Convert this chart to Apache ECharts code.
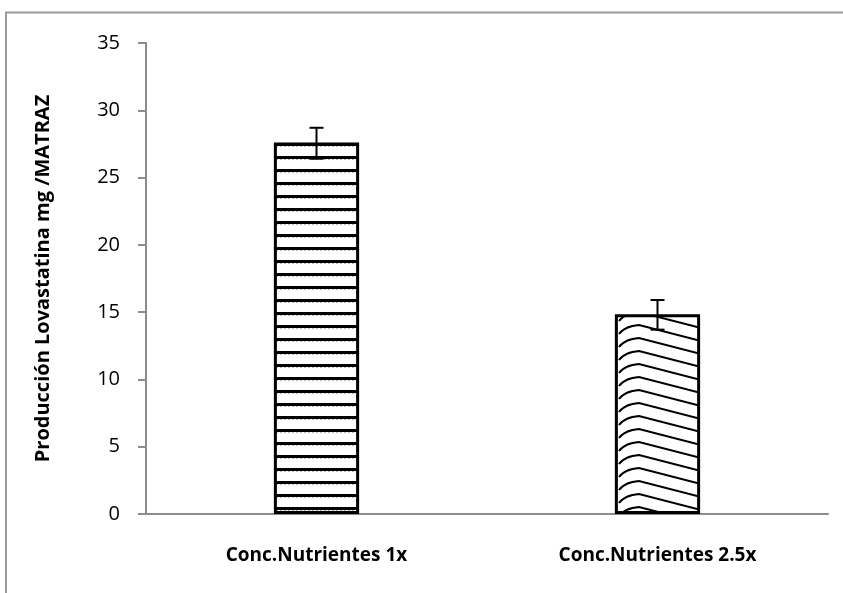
<!DOCTYPE html>
<html>
<head>
<meta charset="utf-8">
<script src="https://cdn.jsdelivr.net/npm/echarts@6/dist/echarts.min.js"></script>
<style>
  html, body { margin: 0; padding: 0; background: #fff; }
  #chart { width: 843px; height: 593px; }
</style>
</head>
<body>
<div id="chart"></div>
<script>
const categories = ["Conc.Nutrientes 1x", "Conc.Nutrientes 2.5x"];
const produccion = [27.6, 14.85];
const errorLow = [26.4, 13.7];
const errorHigh = [28.7, 15.9];
const yTicks = [0, 5, 10, 15, 20, 25, 30, 35];

// horizontal stripes for first bar
function stripePattern() {
  const c = document.createElement("canvas");
  c.width = 16;
  c.height = 13;
  const ctx = c.getContext("2d");
  ctx.fillStyle = "#fff";
  ctx.fillRect(0, 0, 16, 13);
  ctx.fillStyle = "#000";
  ctx.fillRect(0, 0, 16, 3);
  ctx.fillStyle = "#bbb";
  for (let x = 0; x < 16; x += 4) ctx.fillRect(x, 3, 2, 1);
  return c;
}

// chevron-like curved lines for second bar, drawn in page coords
function chevronPattern(x0, x1) {
  const h = 13;
  const c = document.createElement("canvas");
  c.width = 843;
  c.height = h;
  const ctx = c.getContext("2d");
  ctx.fillStyle = "#fff";
  ctx.fillRect(0, 0, 843, h);
  ctx.strokeStyle = "#000";
  ctx.lineWidth = 2;
  const peak = x0 + 26;
  for (const off of [-h, 0, h]) {
    ctx.beginPath();
    ctx.moveTo(x0 + 6, off + 9);
    ctx.quadraticCurveTo(x0 + 12, off + 1, peak, off);
    ctx.lineTo(x1, off + 16);
    ctx.stroke();
  }
  return c;
}

const chart = echarts.init(document.getElementById("chart"));
const font = "'Open Sans', 'Liberation Sans', sans-serif";

chart.setOption({
  animation: false,
  graphic: [{
    type: "rect",
    shape: { x: 6, y: 12.5, width: 900, height: 700 },
    style: { fill: "none", stroke: "#9a9a9a", lineWidth: 2 },
    z: 0
  }],
  grid: { left: 146, right: 15, top: 43, bottom: 79 },
  xAxis: {
    type: "category",
    data: categories,
    axisLine: { lineStyle: { color: "#8c8c8c", width: 2 } },
    axisTick: { show: false },
    axisLabel: { color: "#000", fontFamily: font, fontWeight: "bold", fontSize: 19, margin: 32 }
  },
  yAxis: {
    type: "value",
    min: 0,
    max: 35,
    interval: 5,
    name: "Producción Lovastatina mg /MATRAZ",
    nameLocation: "middle",
    nameGap: 93,
    nameTextStyle: { color: "#000", fontFamily: font, fontWeight: "bold", fontSize: 20 },
    axisLine: { show: true, lineStyle: { color: "#8c8c8c", width: 2 } },
    axisTick: { show: true, length: 8, lineStyle: { color: "#8c8c8c", width: 2 } },
    splitLine: { show: false },
    axisLabel: {
      color: "#000", fontFamily: font, fontSize: 20, margin: 26,
      formatter: (v) => (yTicks.includes(v) ? String(v) : "")
    }
  },
  series: [
    {
      type: "bar",
      barWidth: "25%",
      data: produccion.map((v, i) => ({
        value: v,
        itemStyle: {
          color: i === 0
            ? { image: stripePattern(), repeat: "repeat" }
            : { image: chevronPattern(613, 701), repeat: "repeat" },
          borderColor: "#000",
          borderWidth: 3
        }
      }))
    },
    {
      type: "custom",
      data: categories.map((c, i) => [i, errorLow[i], errorHigh[i]]),
      renderItem: (params, api) => {
        const lo = api.coord([api.value(0), api.value(1)]);
        const hi = api.coord([api.value(0), api.value(2)]);
        const w = 7;
        const style = { stroke: "#000", lineWidth: 2 };
        return {
          type: "group",
          children: [
            { type: "line", shape: { x1: hi[0], y1: hi[1], x2: lo[0], y2: lo[1] }, style },
            { type: "line", shape: { x1: hi[0] - w, y1: hi[1], x2: hi[0] + w, y2: hi[1] }, style },
            { type: "line", shape: { x1: lo[0] - w, y1: lo[1], x2: lo[0] + w, y2: lo[1] }, style }
          ]
        };
      },
      z: 10
    }
  ]
});
window.addEventListener("resize", () => chart.resize());
</script>
</body>
</html>
